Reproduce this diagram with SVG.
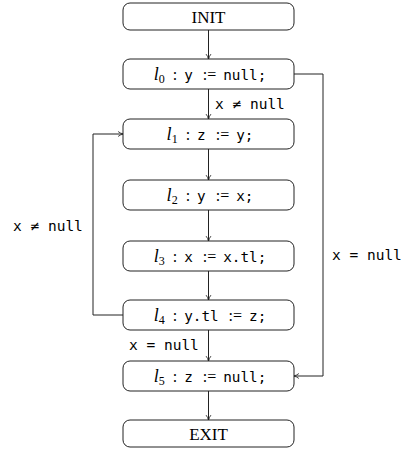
<svg xmlns="http://www.w3.org/2000/svg" width="408" height="452" viewBox="0 0 408 452">
<defs>
<style>
.box{fill:#fff;stroke:#222;stroke-width:1}
.edge{fill:none;stroke:#222;stroke-width:1;marker-end:url(#arr)}
.serif{font-family:"Liberation Serif","Times New Roman",serif;font-size:17px;fill:#000}
.code{font-family:"DejaVu Sans Mono","Liberation Mono",monospace;font-size:14.3px;fill:#000}
.lab{font-family:"DejaVu Sans Mono","Liberation Mono",monospace;font-size:14.5px;fill:#000}
.it{font-family:"Liberation Serif","Times New Roman",serif;font-style:italic;font-size:18px}
.sub{font-family:"Liberation Serif","Times New Roman",serif;font-size:12px}
.col{font-family:"Liberation Serif","Times New Roman",serif;font-size:16px}
</style>
<marker id="arr" viewBox="0 0 10 10" refX="9" refY="5" markerWidth="7" markerHeight="7" markerUnits="userSpaceOnUse" orient="auto">
<path d="M2,1.5 Q5,4 9.5,5 Q5,6 2,8.5" fill="none" stroke="#222" stroke-width="1.2"/>
</marker>
</defs>
<g id="edges">
<line class="edge" x1="208.5" y1="30" x2="208.5" y2="59"/>
<line class="edge" x1="208.5" y1="89" x2="208.5" y2="119"/>
<line class="edge" x1="208.5" y1="149" x2="208.5" y2="180"/>
<line class="edge" x1="208.5" y1="210" x2="208.5" y2="241"/>
<line class="edge" x1="208.5" y1="271" x2="208.5" y2="300"/>
<line class="edge" x1="208.5" y1="330" x2="208.5" y2="361"/>
<line class="edge" x1="208.5" y1="391" x2="208.5" y2="420"/>
<polyline class="edge" points="294,74 323,74 323,376 294,376"/>
<polyline class="edge" points="123,315 93,315 93,134 123,134"/>
<text class="lab" x="215" y="109">x ≠ null</text>
<text class="lab" x="332" y="260">x = null</text>
<text class="lab" x="13" y="231">x ≠ null</text>
<text class="lab" x="129" y="350">x = null</text>
</g>
<g id="init">
<rect class="box" x="123" y="3" width="171" height="27" rx="7"/>
<text class="serif" x="208.5" y="22.5" text-anchor="middle">INIT</text>
</g>
<g id="l0">
<rect class="box" x="123" y="59" width="171" height="30" rx="7"/>
<text class="code" x="210" y="80" text-anchor="middle"><tspan class="it">l</tspan><tspan class="sub" dy="3">0</tspan><tspan class="col" dx="8" dy="-3">:</tspan><tspan dx="7">y</tspan><tspan class="col" dx="10">:=</tspan><tspan dx="7">null;</tspan></text>
</g>
<g id="l1">
<rect class="box" x="123" y="119" width="171" height="30" rx="7"/>
<text class="code" x="210" y="140" text-anchor="middle"><tspan class="it">l</tspan><tspan class="sub" dy="3">1</tspan><tspan class="col" dx="8" dy="-3">:</tspan><tspan dx="7">z</tspan><tspan class="col" dx="10">:=</tspan><tspan dx="7">y;</tspan></text>
</g>
<g id="l2">
<rect class="box" x="123" y="180" width="171" height="30" rx="7"/>
<text class="code" x="210" y="201" text-anchor="middle"><tspan class="it">l</tspan><tspan class="sub" dy="3">2</tspan><tspan class="col" dx="8" dy="-3">:</tspan><tspan dx="7">y</tspan><tspan class="col" dx="10">:=</tspan><tspan dx="7">x;</tspan></text>
</g>
<g id="l3">
<rect class="box" x="123" y="241" width="171" height="30" rx="7"/>
<text class="code" x="210" y="262" text-anchor="middle"><tspan class="it">l</tspan><tspan class="sub" dy="3">3</tspan><tspan class="col" dx="8" dy="-3">:</tspan><tspan dx="7">x</tspan><tspan class="col" dx="10">:=</tspan><tspan dx="7">x.tl;</tspan></text>
</g>
<g id="l4">
<rect class="box" x="123" y="300" width="171" height="30" rx="7"/>
<text class="code" x="210" y="321" text-anchor="middle"><tspan class="it">l</tspan><tspan class="sub" dy="3">4</tspan><tspan class="col" dx="8" dy="-3">:</tspan><tspan dx="7">y.tl</tspan><tspan class="col" dx="10">:=</tspan><tspan dx="7">z;</tspan></text>
</g>
<g id="l5">
<rect class="box" x="123" y="361" width="171" height="30" rx="7"/>
<text class="code" x="210" y="382" text-anchor="middle"><tspan class="it">l</tspan><tspan class="sub" dy="3">5</tspan><tspan class="col" dx="8" dy="-3">:</tspan><tspan dx="7">z</tspan><tspan class="col" dx="10">:=</tspan><tspan dx="7">null;</tspan></text>
</g>
<g id="exit">
<rect class="box" x="123" y="420" width="171" height="27" rx="7"/>
<text class="serif" x="208.5" y="439.5" text-anchor="middle">EXIT</text>
</g>
</svg>
